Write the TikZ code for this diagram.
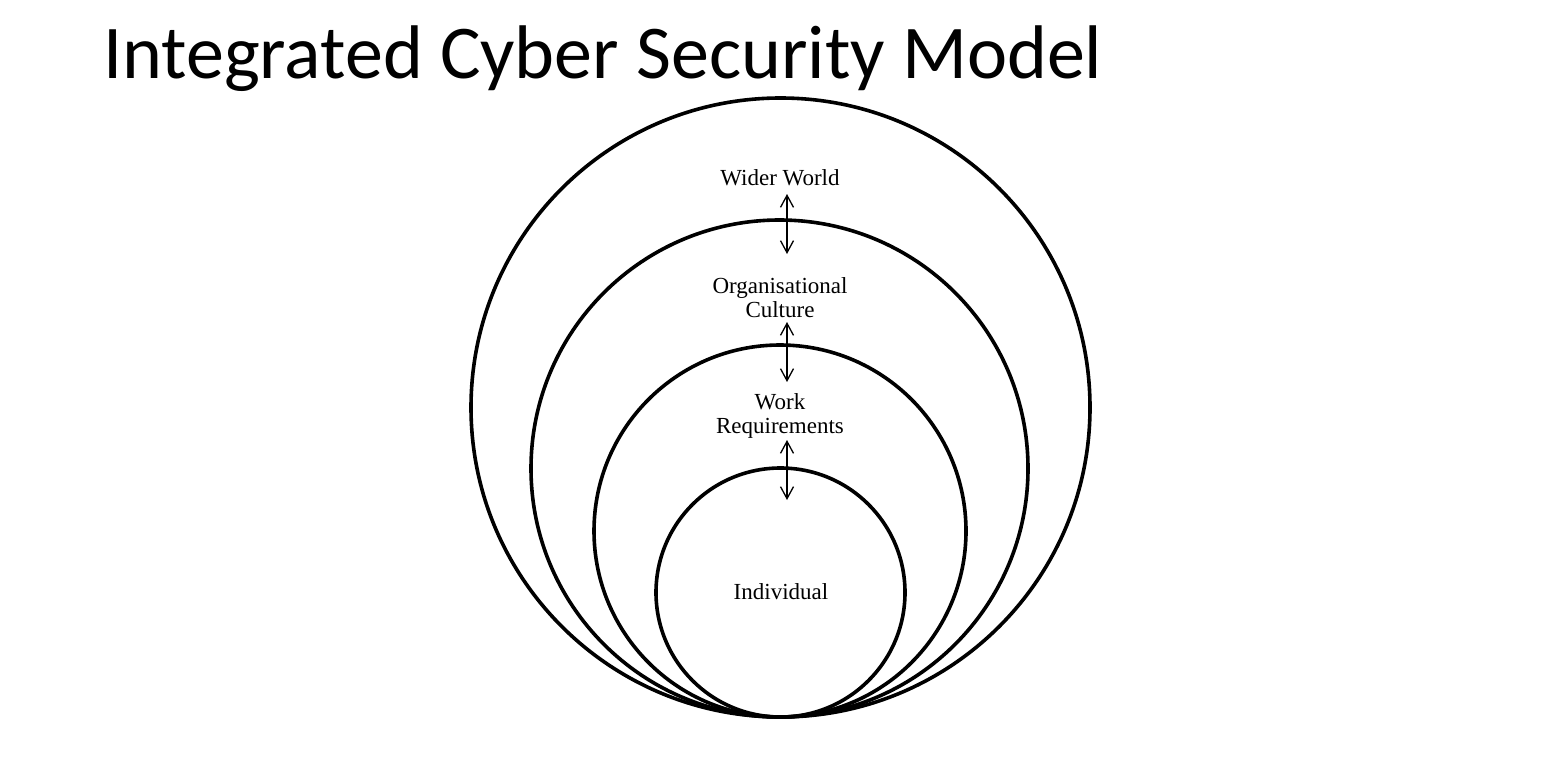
\documentclass[tikz,border=0pt]{standalone}
\usepackage{fontspec}
\setmainfont{Liberation Serif}
\newfontfamily\titlefont{Carlito}
\usetikzlibrary{arrows.meta}
\begin{document}
\begin{tikzpicture}[x=1pt,y=-1pt,
  ring/.style={draw=black,line width=3.6pt,circle,inner sep=0pt},
  lbl/.style={font=\fontsize{23}{24}\selectfont,align=center,inner sep=0pt},
  link/.style={line width=1.3pt,{Straight Barb[length=12pt,width=13pt,line width=1.3pt]}-{Straight Barb[length=12pt,width=13pt,line width=1.3pt]}}]
\useasboundingbox (0,0) rectangle (1566,776);
\node[anchor=base west,inner sep=0pt,font=\titlefont\fontsize{76}{80}\selectfont] (title) at (103,78) {Integrated Cyber Security Model};
\node[ring,minimum size=619pt] (c1) at (780.5,407.5) {};
\node[ring,minimum size=497pt] (c2) at (779.5,468.5) {};
\node[ring,minimum size=372pt] (c3) at (780,531) {};
\node[ring,minimum size=249pt] (c4) at (780.5,592.5) {};
\node[lbl] (w) at (780,178) {Wider World};
\node[lbl] (o) at (780,298) {Organisational\\Culture};
\node[lbl] (r) at (780,416) {Work\\Requirements};
\node[lbl] (i) at (781,592) {Individual};
\coordinate (a1t) at (787,194);
\coordinate (a1b) at (787,254);
\coordinate (a2t) at (787,322);
\coordinate (a2b) at (787,382);
\coordinate (a3t) at (787,440);
\coordinate (a3b) at (787,500);
\draw[link] (a1t) -- (a1b);
\draw[link] (a2t) -- (a2b);
\draw[link] (a3t) -- (a3b);
\end{tikzpicture}
\end{document}
